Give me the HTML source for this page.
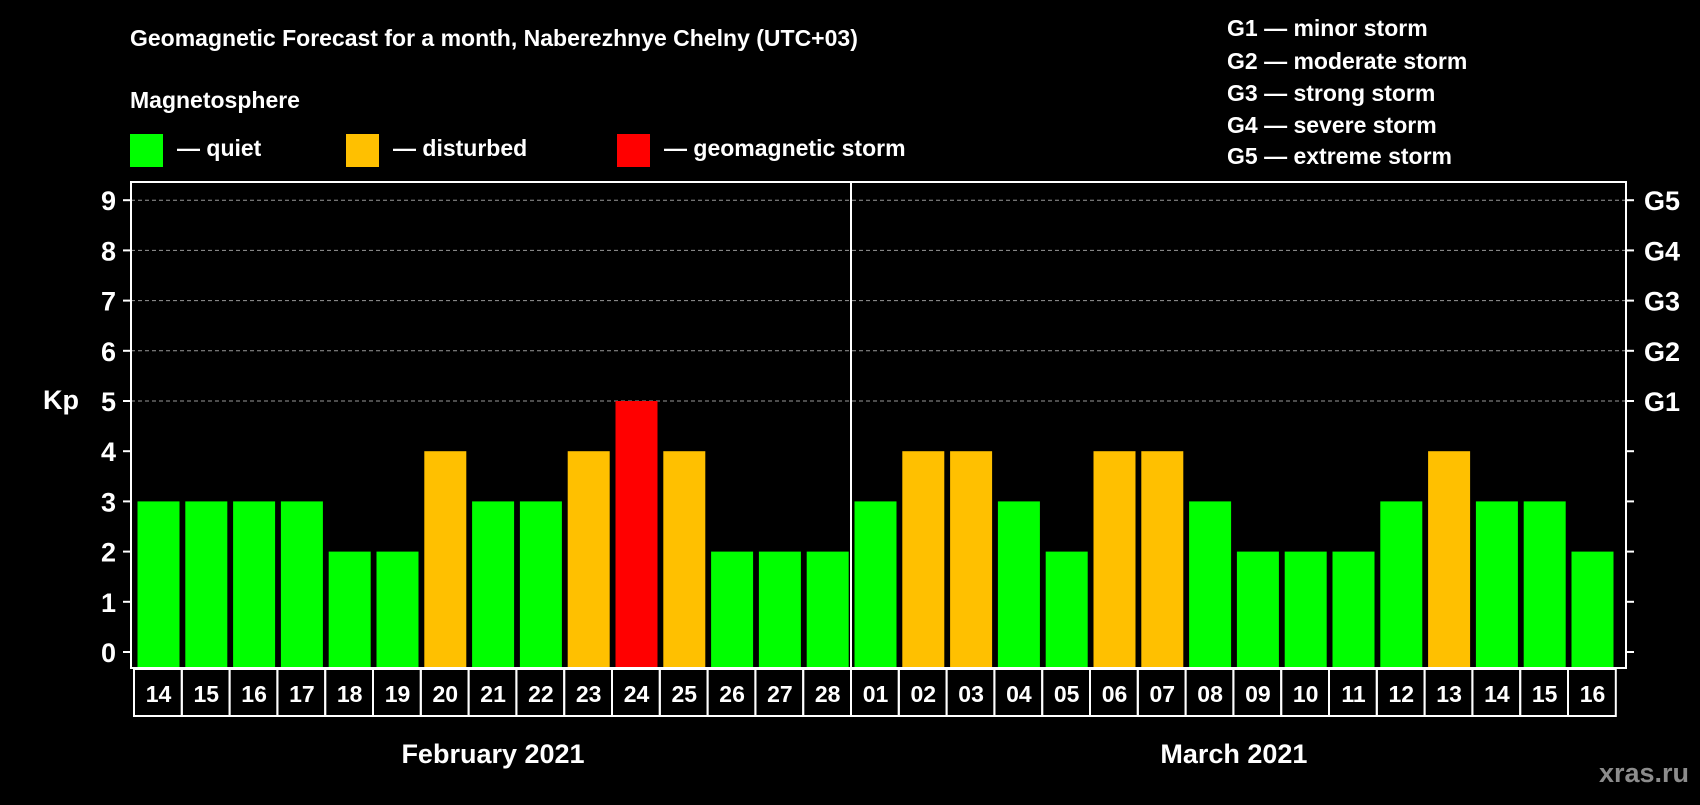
<!DOCTYPE html>
<html><head><meta charset="utf-8"><style>
body{margin:0;background:#000;width:1700px;height:800px;overflow:hidden}
svg text{font-family:"Liberation Sans",Arial,sans-serif;font-weight:bold;fill:#fff}
</style></head><body>
<svg id="c" width="1700" height="800" xmlns="http://www.w3.org/2000/svg">
<rect width="1700" height="800" fill="#000"/>
<text x="130" y="46" font-size="23">Geomagnetic Forecast for a month, Naberezhnye Chelny (UTC+03)</text>
<text x="130" y="108" font-size="23">Magnetosphere</text>
<rect x="130" y="134" width="33" height="33" fill="#00ff00"/>
<text x="177" y="156" font-size="23">— quiet</text>
<rect x="346" y="134" width="33" height="33" fill="#ffc000"/>
<text x="393" y="156" font-size="23">— disturbed</text>
<rect x="617" y="134" width="33" height="33" fill="#ff0000"/>
<text x="664" y="156" font-size="23">— geomagnetic storm</text>
<g font-size="23">
<text x="1227" y="36">G1 — minor storm</text>
<text x="1227" y="69">G2 — moderate storm</text>
<text x="1227" y="101">G3 — strong storm</text>
<text x="1227" y="133">G4 — severe storm</text>
<text x="1227" y="164">G5 — extreme storm</text>
</g>
<text x="43" y="409" font-size="27">Kp</text>
<text x="1689" y="782" font-size="27" text-anchor="end" style="fill:#8c8c8c">xras.ru</text>
<g id="plot"></g>
</svg>
<script>
const days=["14","15","16","17","18","19","20","21","22","23","24","25","26","27","28","01","02","03","04","05","06","07","08","09","10","11","12","13","14","15","16"];
const kp=[3,3,3,3,2,2,4,3,3,4,5,4,2,2,2,3,4,4,3,2,4,4,3,2,2,2,3,4,3,3,2];
const yTicks=[0,1,2,3,4,5,6,7,8,9];
const gLabels=["G1","G2","G3","G4","G5"];
const months=["February 2021","March 2021"];
const NS="http://www.w3.org/2000/svg";
const g=document.getElementById('plot');
const L=131,R=1626,T=182,B=668,x0=137.5,slot=47.8;
const y=v=>652-v*50.2;
const x=i=>x0+i*slot;
function mk(t,a,txt){const e=document.createElementNS(NS,t);for(const k in a)e.setAttribute(k,a[k]);if(txt!==undefined)e.textContent=txt;g.appendChild(e);return e;}
yTicks.forEach(v=>{
 if(v>=5){const l=mk('line',{x1:L,x2:R,y1:y(v),y2:y(v),stroke:'#999','stroke-dasharray':'4,3','stroke-width':1});
 
 }
 const tl=mk('line',{x1:L-8,x2:L,y1:y(v),y2:y(v),stroke:'#fff','stroke-width':2});
 
 
 const tr=mk('line',{x1:R,x2:R+8,y1:y(v),y2:y(v),stroke:'#fff','stroke-width':2});
 
 
 const t=mk('text',{x:116,y:y(v)+10,'font-size':27,'text-anchor':'end'},String(v));
 
 
});
gLabels.forEach((s,i)=>{
 const t=mk('text',{x:1644,y:y(5+i)+10,'font-size':27},s);
 
 
});
kp.forEach((v,i)=>{
 const c=v>=5?'#ff0000':(v>=4?'#ffc000':'#00ff00');
 const r=mk('rect',{x:x(i),y:y(v),width:42,height:B-y(v),fill:c});
 
 
 const bx=mk('rect',{x:x(i)-3.5,y:B+1,width:slot,height:47,fill:'none',stroke:'#fff','stroke-width':2});
 
 
 const t=mk('text',{x:x(i)+21,y:B+34,'font-size':23,'text-anchor':'middle'},days[i]);
 
 
});
const fr=mk('rect',{x:L,y:T,width:R-L,height:B-T,fill:'none',stroke:'#fff','stroke-width':2});


const dv=mk('line',{x1:x(15)-3.5,x2:x(15)-3.5,y1:T,y2:B,stroke:'#fff','stroke-width':2});


const m1=mk('text',{x:(x(0)+x(15))/2-3,y:763,'font-size':27,'text-anchor':'middle'},months[0]);


const m2=mk('text',{x:(x(15)+x(31))/2-3,y:763,'font-size':27,'text-anchor':'middle'},months[1]);


</script>
</body></html>
